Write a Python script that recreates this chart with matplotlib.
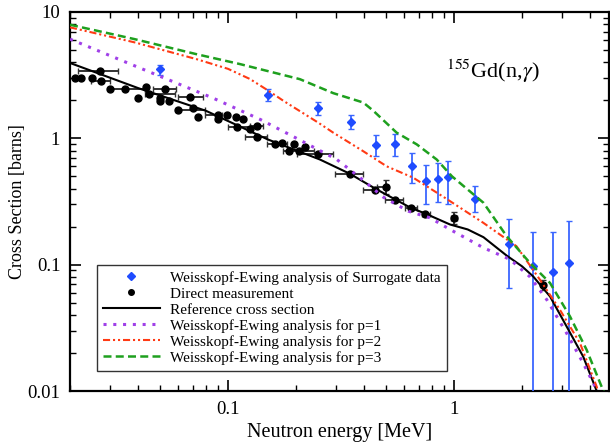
import numpy as np
import matplotlib.pyplot as plt
from matplotlib.lines import Line2D

plt.rcParams['font.family'] = ['Liberation Serif', 'DejaVu Serif']
plt.rcParams['mathtext.fontset'] = 'stix'

# Weisskopf-Ewing analysis of surrogate data (MeV, barns)
sur_E = [0.05, 0.15, 0.25, 0.35, 0.45, 0.55, 0.65, 0.75, 0.85, 0.94, 1.24, 1.75, 2.24, 2.74, 3.23]
sur_sig = [3.53, 2.19, 1.73, 1.34, 0.88, 0.91, 0.60, 0.456, 0.48, 0.49, 0.334, 0.147, 0.098, 0.088, 0.104]
sur_lo = [3.16, 1.97, 1.52, 1.18, 0.73, 0.73, 0.44, 0.30, 0.316, 0.30, 0.26, 0.065, 0.005, 0.005, 0.005]
sur_hi = [3.82, 2.45, 1.93, 1.52, 1.06, 1.08, 0.76, 0.62, 0.64, 0.66, 0.416, 0.23, 0.183, 0.183, 0.22]

# direct measurement
dir_E = [0.021, 0.0224, 0.0249, 0.0273, 0.0272, 0.030, 0.035, 0.0398, 0.0433, 0.0449,
         0.050, 0.050, 0.0528, 0.055, 0.0677, 0.0603, 0.0698, 0.074, 0.090, 0.090,
         0.0995, 0.108, 0.117, 0.110, 0.125, 0.134, 0.135, 0.162, 0.174, 0.187,
         0.196, 0.207, 0.220, 0.249, 0.347, 0.447, 0.499, 0.548, 0.643, 0.746,
         1.0, 2.48]
dir_sig = [3.01, 3.01, 2.98, 2.82, 3.40, 2.46, 2.45, 2.09, 2.54, 2.23,
           2.09, 1.97, 2.45, 1.97, 2.12, 1.69, 1.73, 1.47, 1.52, 1.42,
           1.53, 1.48, 1.42, 1.22, 1.19, 1.25, 1.02, 0.896, 0.92, 0.80,
           0.90, 0.80, 0.85, 0.753, 0.518, 0.389, 0.411, 0.324, 0.282, 0.254,
           0.232, 0.069]
dir_Elo = [0.021, 0.0224, 0.0249, 0.0248, 0.0217, 0.030, 0.0294, 0.0398, 0.0433, 0.043,
           0.050, 0.050, 0.0466, 0.055, 0.0601, 0.0589, 0.0698, 0.074, 0.079, 0.090,
           0.0995, 0.108, 0.117, 0.100, 0.125, 0.125, 0.119, 0.149, 0.174, 0.175,
           0.196, 0.202, 0.220, 0.202, 0.297, 0.396, 0.456, 0.495, 0.607, 0.72,
           0.97, 2.44]
dir_Ehi = [0.021, 0.0224, 0.0249, 0.0301, 0.0326, 0.030, 0.0430, 0.0398, 0.0433, 0.0582,
           0.050, 0.050, 0.0589, 0.055, 0.0776, 0.0791, 0.0698, 0.074, 0.094, 0.090,
           0.0995, 0.108, 0.117, 0.125, 0.125, 0.143, 0.149, 0.182, 0.174, 0.202,
           0.196, 0.24, 0.220, 0.292, 0.396, 0.456, 0.511, 0.594, 0.686, 0.78,
           1.03, 2.52]
dir_siglo = list(dir_sig)
dir_sighi = list(dir_sig)
dir_siglo[36], dir_sighi[36] = 0.36, 0.464
dir_siglo[40], dir_sighi[40] = 0.208, 0.259
dir_siglo[41], dir_sighi[41] = 0.063, 0.076

# reference cross section
ref_E = [0.02, 0.04, 0.08, 0.15, 0.255, 0.347, 0.447, 0.643, 0.746, 0.96, 1.15, 1.35, 1.71,
         2.0, 2.24, 2.66, 3.15, 3.73, 4.28, 4.4]
ref_sig = [3.95, 2.50, 1.65, 0.98, 0.68, 0.523, 0.401, 0.282, 0.254, 0.208, 0.19, 0.165, 0.118,
           0.097, 0.0807, 0.056, 0.0324, 0.0187, 0.0100, 0.008]

# WE analysis p=1
p1_E = [0.02, 0.0452, 0.086, 0.139, 0.195, 0.303, 0.384, 0.487, 0.628, 0.783, 0.96, 1.35,
        1.77, 2.17, 2.57, 3.15, 3.73, 4.28, 4.4]
p1_sig = [6.1, 3.34, 2.08, 1.41, 1.03, 0.68, 0.488, 0.342, 0.265, 0.235, 0.19, 0.136,
          0.11, 0.08, 0.053, 0.0287, 0.0166, 0.0102, 0.008]

# WE analysis p=2
p2_E = [0.02, 0.0386, 0.0724, 0.1, 0.125, 0.15, 0.176, 0.251, 0.292, 0.397, 0.504, 0.66, 0.912,
        1.35, 1.89, 2.40, 2.94, 3.61, 4.28, 4.45]
p2_sig = [7.56, 5.75, 4.24, 3.55, 2.95, 2.40, 1.98, 1.33, 1.11, 0.79, 0.60, 0.488, 0.338,
          0.214, 0.14, 0.076, 0.044, 0.0239, 0.0108, 0.008]

# WE analysis p=3
p3_E = [0.02, 0.0386, 0.0724, 0.113, 0.208, 0.292, 0.397, 0.44, 0.557, 0.684, 0.838,
        0.98, 1.35, 1.71, 2.17, 2.66, 3.26, 3.86, 4.58, 4.75]
p3_sig = [7.93, 6.1, 4.64, 3.87, 2.94, 2.28, 1.92, 1.65, 1.11, 0.896, 0.68,
          0.50, 0.309, 0.168, 0.103, 0.0716, 0.0389, 0.0212, 0.0100, 0.008]

blue = '#1f4cff'
purple = '#a040e8'
red = '#ff3a14'
green = '#1ea01e'

fig = plt.figure(figsize=(6.1, 4.48), dpi=100)
ax = fig.add_axes([70 / 610, 57 / 448, 539 / 610, 379 / 448])

sE = np.array(sur_E)
ss = np.array(sur_sig)
ax.errorbar(sE, ss, yerr=[ss - np.array(sur_lo), np.array(sur_hi) - ss],
            fmt='D', color=blue, ecolor='#3a66ff', markersize=4.5, elinewidth=1.3,
            capsize=2.5, capthick=1, zorder=3)

dE = np.array(dir_E)
ds = np.array(dir_sig)
ax.errorbar(dE, ds,
            xerr=[dE - np.array(dir_Elo), np.array(dir_Ehi) - dE],
            yerr=[ds - np.array(dir_siglo), np.array(dir_sighi) - ds],
            fmt='o', color='black', ecolor='#333333', markersize=5, elinewidth=1.4,
            capsize=2, capthick=1, zorder=3)

ax.plot(ref_E, ref_sig, color='black', lw=1.5, zorder=4)
ax.plot(p1_E, p1_sig, color=purple, lw=2.2, dashes=[1, 2.2], zorder=4)
ax.plot(p2_E, p2_sig, color=red, lw=1.5, dashes=[3.4, 1.4, 1, 1.4, 1, 1.4], zorder=4)
ax.plot(p3_E, p3_sig, color=green, lw=1.8, dashes=[3.2, 1.7], zorder=4)

ax.set_xscale('log')
ax.set_yscale('log')
ax.set_xlim(0.02, 4.85)
ax.set_ylim(0.01, 10)
ax.set_xticks([0.1, 1])
ax.set_xticklabels(['0.1', '1'])
ax.set_yticks([0.01, 0.1, 1, 10])
ax.set_yticklabels(['0.01', '0.1', '1', '10'])
ax.tick_params(which='both', direction='in', top=True, right=True, labelsize=13.5)
ax.tick_params(which='major', length=8, width=1.2, pad=7)
ax.tick_params(which='minor', length=4, width=1)
for sp in ax.spines.values():
    sp.set_linewidth(1.6)

ax.set_xlabel('Neutron energy [MeV]', fontsize=14.5, labelpad=4)
ax.set_ylabel('Cross Section [barns]', fontsize=13, labelpad=1)

ax.text(0.698, 0.826, r'$^{155}$Gd(n,$\gamma$)', transform=ax.transAxes, fontsize=16)

handles = [
    Line2D([], [], ls='none', marker='D', color=blue, markersize=4),
    Line2D([], [], ls='none', marker='o', color='black', markersize=4),
    Line2D([], [], color='black', lw=1.5),
    Line2D([], [], color=purple, lw=2.2, dashes=[1, 2.2]),
    Line2D([], [], color=red, lw=1.5, dashes=[3.4, 1.4, 1, 1.4, 1, 1.4]),
    Line2D([], [], color=green, lw=1.8, dashes=[3.2, 1.7]),
]
labels = ['Weisskopf-Ewing analysis of Surrogate data', 'Direct measurement',
          'Reference cross section', 'Weisskopf-Ewing analysis for p=1',
          'Weisskopf-Ewing analysis for p=2', 'Weisskopf-Ewing analysis for p=3']
leg = ax.legend(handles, labels, loc='lower left', bbox_to_anchor=(0.05, 0.053),
                borderaxespad=0, fontsize=11, frameon=True, fancybox=False,
                edgecolor='black', handlelength=3.7, handletextpad=0.7,
                labelspacing=0.15, borderpad=0.4)
leg.get_frame().set_linewidth(1)

fig.savefig('out.png', dpi=100)
